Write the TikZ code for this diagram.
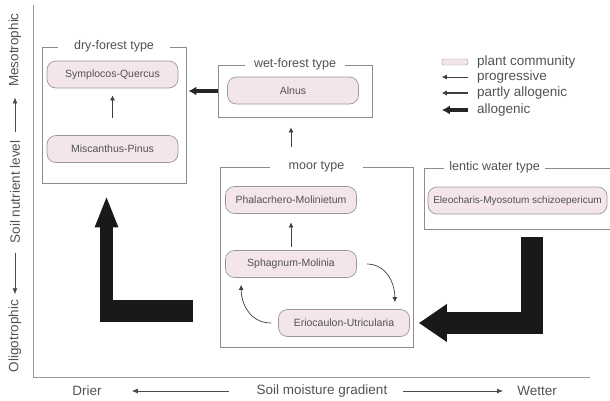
\documentclass[tikz,border=0pt]{standalone}
\usepackage{fontspec}
\setmainfont{Liberation Sans}
\usepackage{tikz}
\usetikzlibrary{arrows.meta,calc}

\definecolor{commfill}{RGB}{244,229,234}
\definecolor{txtgray}{gray}{0.32}
\tikzset{
  typebox/.style={draw=black!45, line width=0.8pt, rectangle, inner sep=0pt},
  typetitle/.style={fill=white, inner xsep=12pt, inner ysep=1pt, font=\fontsize{12.5}{14}\selectfont, text=txtgray},
  community/.style={draw=black!40, line width=0.7pt, fill=commfill, rounded corners=9pt,
    minimum width=131pt, minimum height=27pt, inner sep=0pt, font=\fontsize{10.5}{12}\selectfont, text=txtgray},
  prog/.style={draw=black!75, line width=0.7pt, -{Latex[length=5pt,width=5pt]}},
  partly/.style={draw=black!75, line width=1.1pt, -{Latex[length=5pt,width=5.5pt]}},
  allo/.style={draw=black!85, line width=3.5pt, -{Latex[length=8pt,width=9pt]}},
  axislabel/.style={font=\fontsize{13.5}{15}\selectfont, text=txtgray, inner sep=0pt},
  legtext/.style={font=\fontsize{13.5}{15}\selectfont, text=txtgray, inner sep=0pt, anchor=west},
  axisline/.style={draw=black!40, line width=0.9pt},
  axarrow/.style={draw=black!70, line width=0.7pt, -{Latex[length=6pt,width=5pt]}},
}

\begin{document}
\begin{tikzpicture}[x=1pt, y=-1pt]
\useasboundingbox (0,0) rectangle (610,400);
% 坐标轴
\coordinate (ytop) at (33,5);
\coordinate (origin) at (33,377);
\coordinate (xend) at (590,377);
\draw[axisline] (ytop) -- (origin) -- (xend);
\node[axislabel, rotate=90] (oligo) at (15,336) {Oligotrophic};
\node[axislabel, rotate=90] (nutr) at (15,192) {Soil nutrient level};
\node[axislabel, rotate=90] (meso) at (15,50) {Mesotrophic};
\draw[axarrow, shorten <=9pt, shorten >=5.5pt] (nutr.west) -- (oligo.east);
\draw[axarrow, shorten <=8pt, shorten >=10.5pt] (nutr.east) -- (meso.west);
\node[axislabel] (drier) at (87,391) {Drier};
\node[axislabel] (grad) at (322,391) {Soil moisture gradient};
\node[axislabel] (wetter) at (537,391) {Wetter};
\draw[axarrow, shorten <=28pt, shorten >=30pt] (grad.west) -- (drier.east);
\draw[axarrow, shorten <=16pt, shorten >=14pt] (grad.east) -- (wetter.west);
% 类型框
\node[typebox, minimum width=144pt, minimum height=136pt] (dry) at (114,115) {};
\node[typetitle, inner xsep=16pt] (drytitle) at (dry.north) {dry-forest type};
\node[typebox, minimum width=154pt, minimum height=52pt] (wet) at (295,91) {};
\node[typetitle, inner xsep=9pt] (wettitle) at (wet.north) {wet-forest type};
\node[typebox, minimum width=193pt, minimum height=180pt] (moor) at (316.5,257) {};
\node[typetitle, inner xsep=19pt] (moortitle) at (moor.north) {moor type};
\node[typebox, minimum width=186pt, minimum height=61pt] (lentic) at (517,198.5) {};
\node[typetitle, inner xsep=5pt] (lentictitle) at ($(lentic.north west)+(71,0)$) {lentic water type};
% 群落
\node[community] (symp) at (112.5,74.5) {Symplocos-Quercus};
\node[community] (misc) at (112.5,149) {Miscanthus-Pinus};
\node[community] (alnus) at (293,90.5) {Alnus};
\node[community] (phal) at (291,200) {Phalacrhero-Molinietum};
\node[community] (sph) at (291,264) {Sphagnum-Molinia};
\node[community] (erio) at (344,323) {Eriocaulon-Utricularia};
\node[community, minimum width=179pt, font=\fontsize{10}{12}\selectfont] (eleo) at (517.5,200.5) {Eleocharis-Myosotum schizoepericum};
% 演替
\draw[prog, shorten <=17pt, shorten >=7pt] (misc) -- (symp);
\draw[prog, shorten <=3.5pt, shorten >=8.5pt] (sph) -- (phal);
\draw[prog, shorten <=20pt, shorten >=10pt] (phal.north |- moor.north) -- (phal.north |- wet.south);
\draw[prog, shorten <=10pt, shorten >=7pt] (sph.east) .. controls +(28,0) and +(0,-28) .. ($(erio.north east)+(-15,0)$);
\draw[prog, shorten <=7pt, shorten >=7pt] (erio.west) .. controls +(-28,0) and +(0,26) .. ($(sph.south west)+(16,0)$);
\draw[allo, shorten >=2pt] (wet.west) -- (wet.west -| dry.east);
% 大箭头
\draw[black!90, line width=22pt, line join=miter, shorten <=8pt, shorten >=9pt,
  -{Triangle[length=28pt,width=36pt]}] ($(lentic.south)+(15,0)$) |- (erio.east);
\coordinate (Lend) at (193,311);
\coordinate (Lbend) at (106.5,311);
\draw[black!90, line width=22pt] (Lend) -- ([xshift=-6.5pt]Lbend);
\draw[black!90, line width=13pt, shorten >=12pt, -{Triangle[length=32pt,width=21pt]}]
  ([yshift=-11pt]Lbend) -- (Lbend |- dry.south);
% 图例
\node[draw=black!40, fill=commfill, minimum width=26pt, minimum height=6pt, rounded corners=2pt, inner sep=0pt] (legcomm) at (455,62) {};
\node[legtext] (legcommtxt) at (477,62) {plant community};
\node[legtext] (legprogtxt) at (477,77) {progressive};
\node[legtext] (legparttxt) at (477,93) {partly allogenic};
\node[legtext] (legallotxt) at (477,110) {allogenic};
\coordinate (legp1) at (468,77);
\coordinate (legp2) at (468,93);
\coordinate (legp3) at (468,110);
\draw[prog] (legp1) -- (legp1 -| legcomm.west);
\draw[partly] (legp2) -- (legp2 -| legcomm.west);
\draw[allo] (legp3) -- (legp3 -| legcomm.west);
\end{tikzpicture}
\end{document}
